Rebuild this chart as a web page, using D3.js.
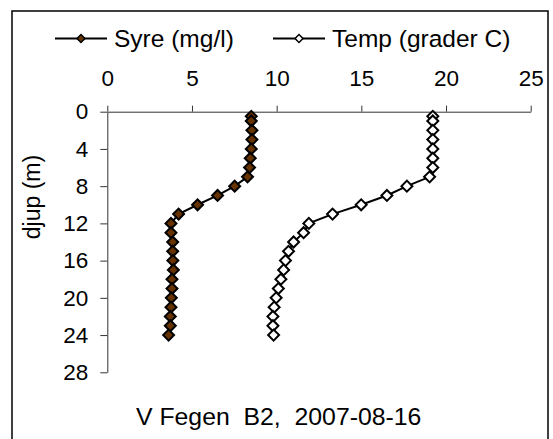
<!DOCTYPE html>
<html lang="no">
  <head>
    <meta charset="UTF-8" />
    <title>V Fegen B2</title>
    <style>
      body { margin: 0; background: #fff; }
      svg { display: block; font-family: "Liberation Sans", Arial, sans-serif; }
      text { white-space: pre; }
    </style>
  </head>
  <body>
    <div id="chart"></div>

    <script src="https://d3js.org/d3.v7.min.js"></script>

    <script>
      // depth (m) of each measurement
      const depths = [0.5, 1, 2, 3, 4, 5, 6, 7, 8, 9, 10, 11, 12, 13, 14, 15, 16, 17, 18, 19, 20, 21, 22, 23, 24];
      // oxygen, mg/l
      const syre = [8.50, 8.50, 8.54, 8.54, 8.50, 8.44, 8.40, 8.28, 7.52, 6.51, 5.33, 4.21, 3.76, 3.76, 3.86, 3.86, 3.87, 3.90, 3.82, 3.82, 3.78, 3.76, 3.72, 3.72, 3.62];
      // temperature, degrees C
      const temp = [19.22, 19.22, 19.22, 19.22, 19.22, 19.22, 19.22, 19.03, 17.69, 16.51, 14.99, 13.30, 11.90, 11.59, 11.00, 10.70, 10.52, 10.41, 10.25, 10.10, 9.97, 9.85, 9.78, 9.78, 9.82];

      const xTicks = [0, 5, 10, 15, 20, 25];
      const yTicks = [0, 4, 8, 12, 16, 20, 24, 28];
      const seriesNames = ["Syre (mg/l)", "Temp (grader C)"];
      const title = "V Fegen  B2,  2007-08-16";

      const width = 553;
      const height = 439;
      const margin = {top: 111.7, right: 22.3, bottom: 66.7, left: 107.3};

      const svg = d3.select("#chart").append("svg")
          .attr("width", width)
          .attr("height", height);

      // outer chart frame (bottom runs off the picture)
      svg.append("rect")
          .attr("x", 12)
          .attr("y", 11)
          .attr("width", 536)
          .attr("height", 440)
          .attr("fill", "none")
          .attr("stroke", "#000")
          .attr("stroke-width", 1.5);

      const x = d3.scaleLinear([0, 25], [margin.left, width - margin.right]);
      const y = d3.scaleLinear([0, 28], [margin.top, height - margin.bottom]);

      // x axis along the top
      svg.append("g")
          .attr("transform", `translate(0,${margin.top})`)
          .call(d3.axisTop(x).tickValues(xTicks).tickSize(6).tickPadding(20).tickSizeOuter(0))
          .call(g => g.select(".domain").attr("stroke", "#333"))
          .call(g => g.selectAll(".tick line").attr("stroke", "#333"))
          .call(g => g.selectAll(".tick text")
              .attr("font-size", 22.5)
              .attr("font-family", "Liberation Sans, Arial, sans-serif")
              .attr("fill", "#000"));

      svg.append("g")
          .attr("transform", `translate(${margin.left},0)`)
          .call(d3.axisLeft(y).tickValues(yTicks).tickSize(7).tickPadding(12).tickSizeOuter(0))
          .call(g => g.select(".domain").attr("stroke", "#333"))
          .call(g => g.selectAll(".tick line").attr("stroke", "#333"))
          .call(g => g.selectAll(".tick text")
              .attr("font-size", 22.5)
              .attr("font-family", "Liberation Sans, Arial, sans-serif")
              .attr("fill", "#000"));

      svg.append("text")
          .attr("transform", `translate(40,${(y(0) + y(28)) / 2 - 45}) rotate(-90)`)
          .attr("text-anchor", "middle")
          .attr("font-size", 23)
          .text("djup (m)");

      const series = [
        {name: seriesNames[0], values: syre, fill: "#663300"},
        {name: seriesNames[1], values: temp, fill: "#ffffff"}
      ];

      const line = d3.line()
          .x(d => x(d[0]))
          .y(d => y(d[1]));

      const marker = d3.symbol(d3.symbolSquare, 60);

      series.forEach(s => {
        const pts = depths.map((dep, i) => [s.values[i], dep]);
        const g = svg.append("g");
        g.append("path")
            .attr("d", line(pts))
            .attr("fill", "none")
            .attr("stroke", "#000")
            .attr("stroke-width", 2);
        g.selectAll("path.m")
          .data(pts)
          .join("path")
            .attr("class", "m")
            .attr("d", marker)
            .attr("transform", d => `translate(${x(d[0])},${y(d[1])}) rotate(45)`)
            .attr("fill", s.fill)
            .attr("stroke", "#000")
            .attr("stroke-width", 2);
      });

      // legend
      const legendX = [55, 273];
      const legend = svg.append("g")
          .selectAll("g")
          .data(series)
          .join("g")
            .attr("transform", (d, i) => `translate(${legendX[i]},38.5)`);
      legend.append("line")
          .attr("x1", 0).attr("x2", 52)
          .attr("stroke", "#000")
          .attr("stroke-width", 2);
      legend.append("path")
          .attr("d", d3.symbol(d3.symbolSquare, 32))
          .attr("transform", "translate(26,0) rotate(45)")
          .attr("fill", d => d.fill)
          .attr("stroke", "#000")
          .attr("stroke-width", 1.5);
      legend.append("text")
          .attr("x", 59)
          .attr("y", 8.5)
          .attr("font-size", 24.5)
          .text(d => d.name);

      svg.append("text")
          .attr("x", 136)
          .attr("y", 425)
          .attr("font-size", 24.8)
          .text(title);
    </script>
  </body>
</html>
